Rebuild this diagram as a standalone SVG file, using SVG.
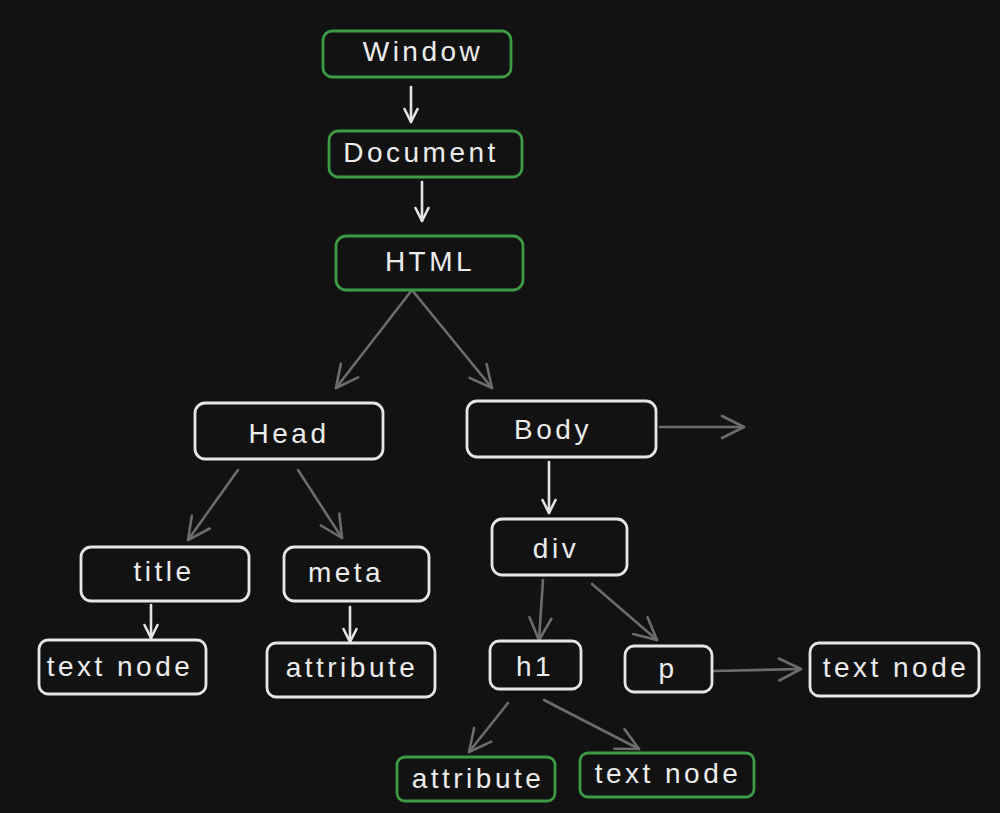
<svg xmlns="http://www.w3.org/2000/svg" width="1000" height="813" viewBox="0 0 1000 813">
<defs>
<style>
.bg{fill:#121212}
.n rect{fill:#121212;stroke:#e6e6e6;stroke-width:2.8}
.g rect{stroke:#3c9c44}
.n text{fill:#ececec;font-family:"Liberation Sans",Arial,sans-serif;font-size:28px;letter-spacing:3.5px;text-anchor:middle;dominant-baseline:central}
.c line{stroke-width:2.6;stroke-linecap:round;fill:none}
.w{stroke:#e4e4e4}
.d{stroke:#6c6c6c}
</style>
<marker id="aw" viewBox="-20 -10 22 20" refX="0" refY="0" markerWidth="22" markerHeight="20" markerUnits="userSpaceOnUse" orient="auto">
<path d="M-13,-6.5 L0,0 L-13,6.5" fill="none" stroke="#e4e4e4" stroke-width="2.6" stroke-linecap="round" stroke-linejoin="round"/>
</marker>
<marker id="ad" viewBox="-26 -14 28 28" refX="0" refY="0" markerWidth="28" markerHeight="28" markerUnits="userSpaceOnUse" orient="auto">
<path d="M-22,-11 L0,0 L-22,11" fill="none" stroke="#6c6c6c" stroke-width="2.6" stroke-linecap="round" stroke-linejoin="round"/>
</marker>
</defs>
<rect class="bg" x="0" y="0" width="1000" height="813"/>
<g id="connectors" class="c">
<line class="w" x1="411" y1="87" x2="411" y2="122" marker-end="url(#aw)"/>
<line class="w" x1="422" y1="182" x2="422" y2="221" marker-end="url(#aw)"/>
<line class="d" x1="412" y1="290" x2="336" y2="388" marker-end="url(#ad)"/>
<line class="d" x1="412" y1="290" x2="492" y2="388" marker-end="url(#ad)"/>
<line class="d" x1="660" y1="427" x2="744" y2="427" marker-end="url(#ad)"/>
<line class="d" x1="238" y1="470" x2="188" y2="540" marker-end="url(#ad)"/>
<line class="d" x1="298" y1="470" x2="342" y2="538" marker-end="url(#ad)"/>
<line class="w" x1="549" y1="462" x2="549" y2="513" marker-end="url(#aw)"/>
<line class="w" x1="151" y1="605" x2="151" y2="638" marker-end="url(#aw)"/>
<line class="w" x1="350" y1="607" x2="350" y2="642" marker-end="url(#aw)"/>
<line class="d" x1="543" y1="580" x2="539" y2="640" marker-end="url(#ad)"/>
<line class="d" x1="592" y1="584" x2="657" y2="640" marker-end="url(#ad)"/>
<line class="d" x1="714" y1="671" x2="801" y2="669" marker-end="url(#ad)"/>
<line class="d" x1="508" y1="703" x2="469" y2="752" marker-end="url(#ad)"/>
<line class="d" x1="544" y1="700" x2="639" y2="749" marker-end="url(#ad)"/>
</g>
<g id="window" class="n g"><rect x="323" y="31" width="188" height="46" rx="9"/><text x="423" y="51">Window</text></g>
<g id="document" class="n g"><rect x="329" y="131" width="193" height="46" rx="9"/><text x="421" y="152">Document</text></g>
<g id="html" class="n g"><rect x="336" y="236" width="187" height="54" rx="10"/><text x="430" y="261">HTML</text></g>
<g id="head" class="n"><rect x="195" y="403" width="188" height="56" rx="10"/><text x="289" y="433">Head</text></g>
<g id="body" class="n"><rect x="467" y="401" width="189" height="56" rx="10"/><text x="553" y="429">Body</text></g>
<g id="div" class="n"><rect x="492" y="519" width="135" height="56" rx="10"/><text x="556" y="548">div</text></g>
<g id="title" class="n"><rect x="81" y="547" width="168" height="54" rx="10"/><text x="164" y="571">title</text></g>
<g id="meta" class="n"><rect x="284" y="547" width="145" height="54" rx="10"/><text x="346" y="572">meta</text></g>
<g id="textnode-title" class="n"><rect x="39" y="640" width="167" height="54" rx="9"/><text x="120" y="666">text node</text></g>
<g id="attribute-meta" class="n"><rect x="267" y="643" width="168" height="54" rx="9"/><text x="352" y="667">attribute</text></g>
<g id="h1" class="n"><rect x="490" y="641" width="91" height="48" rx="9"/><text x="535" y="666">h1</text></g>
<g id="p" class="n"><rect x="625" y="646" width="87" height="46" rx="9"/><text x="668" y="668">p</text></g>
<g id="textnode-p" class="n"><rect x="810" y="643" width="169" height="53" rx="9"/><text x="896" y="667">text node</text></g>
<g id="attribute-h1" class="n g"><rect x="397" y="757" width="158" height="44" rx="8"/><text x="478" y="778">attribute</text></g>
<g id="textnode-h1" class="n g"><rect x="580" y="753" width="174" height="44" rx="8"/><text x="668" y="773">text node</text></g>
</svg>
